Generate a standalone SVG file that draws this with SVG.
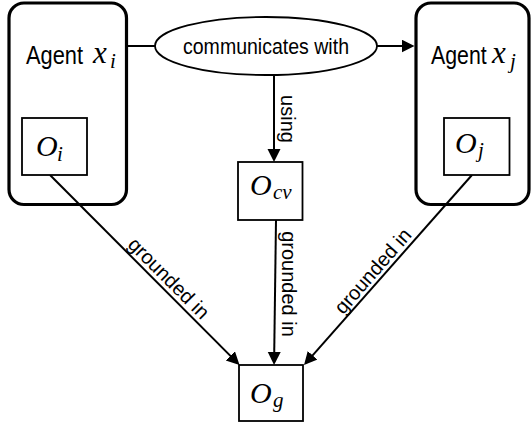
<svg xmlns="http://www.w3.org/2000/svg" width="531" height="426" viewBox="0 0 531 426">
<style>
.agent{fill:none;stroke:#000;stroke-width:3.2}
.box{fill:#fff;stroke:#000;stroke-width:1.8}
.ell{fill:#fff;stroke:#000;stroke-width:1.8}
.sans{font-family:"Liberation Sans",Arial,Helvetica,sans-serif;fill:#000}
.math{font-family:"Liberation Serif","Times New Roman",serif;font-style:italic;fill:#000}
.edge{fill:none;stroke:#000;stroke-width:2}
.lbl{font-family:"Liberation Sans",Arial,Helvetica,sans-serif;font-size:20px;fill:#000;text-anchor:middle}
</style>
<defs>
<marker id="arr" markerUnits="userSpaceOnUse" markerWidth="14" markerHeight="14" refX="10" refY="6.5" orient="auto">
<path d="M0,0 L13,6.5 L0,13 Z" fill="#000"/>
</marker>
</defs>
<rect width="531" height="426" fill="#fff"/>
<g id="agent-i">
<rect class="agent" x="9" y="3" width="117.5" height="201.5" rx="15" ry="15"/>
<text class="sans" transform="translate(26,63.5) scale(0.84,1)" font-size="26">Agent</text>
<text class="math" x="93" y="63" font-size="31">x</text>
<text class="math" x="110" y="68" font-size="21">i</text>
</g>
<g id="agent-j">
<rect class="agent" x="416" y="3" width="113" height="201.5" rx="15" ry="15"/>
<text class="sans" transform="translate(431,63.5) scale(0.82,1)" font-size="26">Agent</text>
<text class="math" x="492" y="63" font-size="31">x</text>
<text class="math" x="510" y="68" font-size="21">j</text>
</g>
<g id="connectors">
<path class="edge" d="M127.5,46 H155"/>
<path class="edge" d="M377,46 H411.5" marker-end="url(#arr)"/>
<path class="edge" d="M274,75 V159" marker-end="url(#arr)"/>
<path class="edge" d="M50,175 L237.4,362.9" marker-end="url(#arr)"/>
<path class="edge" d="M276,220 L274.1,362" marker-end="url(#arr)"/>
<path class="edge" d="M472,175 L306,362.8" marker-end="url(#arr)"/>
<text class="lbl" transform="translate(281,119) rotate(90)">using</text>
<text class="lbl" transform="translate(164,283) rotate(45)">grounded in</text>
<text class="lbl" transform="translate(281.5,284) rotate(90)">grounded in</text>
<text class="lbl" transform="translate(378,275.5) rotate(-49)">grounded in</text>
</g>
<g id="communicates">
<ellipse class="ell" cx="266" cy="46" rx="111" ry="29"/>
<text class="sans" x="183" y="53.5" font-size="22" textLength="166" lengthAdjust="spacingAndGlyphs">communicates with</text>
</g>
<g id="O-i">
<rect class="box" x="22" y="118" width="65" height="57"/>
<text class="math" x="36" y="156" font-size="30">O</text>
<text class="math" x="57" y="161" font-size="21">i</text>
</g>
<g id="O-j">
<rect class="box" x="444" y="118" width="65.5" height="57"/>
<text class="math" x="455" y="153" font-size="30">O</text>
<text class="math" x="478" y="157" font-size="21">j</text>
</g>
<g id="O-cv">
<rect class="box" x="238" y="162" width="64.5" height="58"/>
<text class="math" x="250" y="195" font-size="30">O</text>
<text class="math" x="273" y="199" font-size="21">cv</text>
</g>
<g id="O-g">
<rect class="box" x="239" y="365" width="64" height="56"/>
<text class="math" x="250" y="403" font-size="30">O</text>
<text class="math" x="273" y="407" font-size="21">g</text>
</g>
</svg>
